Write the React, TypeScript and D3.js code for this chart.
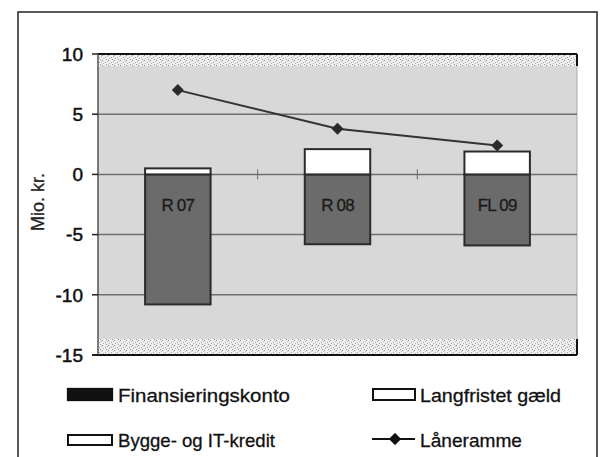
import React from "react";
import * as d3 from "d3";

const categories = ["R 07", "R 08", "FL 09"];
const finansieringskonto = [-10.8, -5.8, -5.9];
const langfristetGaeld = [0.5, 2.1, 1.9];
const byggeOgIT = [0, 0, 0];
const laaneramme = [7.0, 3.8, 2.4];
const yTicks = [10, 5, 0, -5, -10, -15];
const yLabel = "Mio. kr.";
const legendItems = ["Finansieringskonto", "Langfristet gæld", "Bygge- og IT-kredit", "Låneramme"];

const W = 602;
const H = 457;
const plotL = 98;
const plotR = 577;
const plotT = 54;
const plotB = 355;

export default function App() {
  const x = d3
    .scaleBand<string>()
    .domain(categories)
    .range([plotL, plotR])
    .paddingInner(0.59)
    .paddingOuter(0.295);
  const y = d3.scaleLinear().domain([-15, 10]).range([plotB, plotT]);
  const bw = x.bandwidth();
  const step = x.step();

  const line = d3
    .line<number>()
    .x((_, i) => (x(categories[i]) as number) + bw / 2)
    .y((d) => y(d));

  const font = "'Liberation Sans', Arial, sans-serif";
  const stripTop = 12;
  const dark = "#2b2b2b";

  const diamond = (cx: number, cy: number, r: number) =>
    `M${cx},${cy - r}L${cx + r},${cy}L${cx},${cy + r}L${cx - r},${cy}Z`;

  return (
    <svg
      width={W}
      height={H}
      style={{ position: "absolute", left: 0, top: 0, background: "#fff" }}
      fontFamily={font}
    >
      <defs>
        <pattern id="dith" width="6" height="5" patternUnits="userSpaceOnUse">
          <rect width="6" height="5" fill="#eeeeee" />
          <rect x="0" y="0" width="1" height="1" fill="#8a8a8a" />
          <rect x="3" y="2" width="1" height="1" fill="#a5a5a5" />
          <rect x="1" y="3" width="1" height="1" fill="#b4b4b4" />
          <rect x="4" y="4" width="1" height="1" fill="#989898" />
          <rect x="5" y="1" width="1" height="1" fill="#c0c0c0" />
        </pattern>
      </defs>

      {/* outer frame */}
      <rect x={18} y={12} width={579} height={470} fill="none" stroke="#222" strokeWidth={1.5} />

      {/* plot background */}
      <rect x={plotL} y={plotT} width={plotR - plotL} height={plotB - plotT} fill="#d8d8d8" />
      <rect x={plotL} y={plotT} width={plotR - plotL} height={stripTop} fill="url(#dith)" />
      <rect x={plotL} y={plotB - 16} width={plotR - plotL} height={16} fill="url(#dith)" />
      <line x1={plotR} x2={plotR} y1={plotT} y2={plotB} stroke="#aaa" strokeWidth={1} />

      {/* gridlines */}
      {yTicks
        .filter((t) => t !== 10 && t !== -15)
        .map((t) => (
          <line key={t} x1={plotL} x2={plotR} y1={y(t)} y2={y(t)} stroke="#707070" strokeWidth={1.5} />
        ))}
      <line x1={plotL} x2={plotR} y1={plotT} y2={plotT} stroke="#111" strokeWidth={2} />
      <line x1={plotL - 6} x2={plotR} y1={plotB} y2={plotB} stroke="#111" strokeWidth={2} />
      <line x1={plotR} x2={plotR} y1={plotT} y2={plotT + stripTop} stroke="#111" strokeWidth={2} />
      <line x1={plotR} x2={plotR} y1={plotB - 16} y2={plotB} stroke="#111" strokeWidth={2} />

      {/* y axis */}
      <line x1={plotL} x2={plotL} y1={plotT} y2={plotB} stroke="#555" strokeWidth={1.5} />
      {yTicks.map((t) => (
        <g key={t}>
          <line x1={plotL - 6} x2={plotL} y1={y(t)} y2={y(t)} stroke="#222" strokeWidth={1.5} />
          <text
            x={83}
            y={y(t)}
            dy="0.36em"
            textAnchor="end"
            fontSize={19}
            fill="#111"
            stroke="#111"
            strokeWidth={0.5}
          >
            {t < 0 ? "-" + Math.abs(t) : String(t)}
          </text>
        </g>
      ))}
      <text
        transform={`translate(44,${y(-2.3)}) rotate(-90)`}
        textAnchor="middle"
        fontSize={18}
        fill="#222"
        stroke="#222"
        strokeWidth={0.3}
      >
        {yLabel}
      </text>

      {/* x ticks on zero line between categories */}
      {categories.slice(1).map((c) => {
        const bx = (x(c) as number) - (step - bw) / 2;
        return <line key={c} x1={bx} x2={bx} y1={y(0) - 5} y2={y(0) + 5} stroke="#666" strokeWidth={1} />;
      })}

      {/* bars */}
      {categories.map((c, i) => {
        const bx = x(c) as number;
        const l1 = langfristetGaeld[i];
        const b1 = l1 + byggeOgIT[i];
        return (
          <g key={c}>
            <rect
              x={bx}
              y={y(0)}
              width={bw}
              height={y(finansieringskonto[i]) - y(0)}
              fill="#6b6b6b"
              stroke={dark}
              strokeWidth={2}
            />
            {l1 > 0 && (
              <rect x={bx} y={y(l1)} width={bw} height={y(0) - y(l1)} fill="#fff" stroke={dark} strokeWidth={2} />
            )}
            {byggeOgIT[i] > 0 && (
              <rect x={bx} y={y(b1)} width={bw} height={y(l1) - y(b1)} fill="#fff" stroke={dark} strokeWidth={2} />
            )}
            <text
              x={bx + bw / 2}
              y={y(-2.5)}
              dy="0.36em"
              textAnchor="middle"
              fontSize={17}
              fill="#1a1a1a"
              stroke="#1a1a1a"
              strokeWidth={0.3}
              letterSpacing={-0.8}
            >
              {c}
            </text>
          </g>
        );
      })}

      {/* line */}
      <path d={line(laaneramme) || ""} fill="none" stroke="#333" strokeWidth={2} />
      {laaneramme.map((v, i) => (
        <path key={i} d={diamond((x(categories[i]) as number) + bw / 2, y(v), 6)} fill="#2a2a2a" />
      ))}

      {/* legend */}
      <g fontSize={19} fill="#111" stroke="#111" strokeWidth={0.3}>
        <rect x={67} y={388} width={46} height={13} fill="#111" />
        <text x={118} y={395} dy="0.36em" textLength={172} lengthAdjust="spacingAndGlyphs">
          {legendItems[0]}
        </text>
        <rect x={373} y={389} width={42} height={11} fill="#fff" stroke="#111" strokeWidth={2} />
        <text x={420} y={395} dy="0.36em" textLength={141} lengthAdjust="spacingAndGlyphs">
          {legendItems[1]}
        </text>
        <rect x={68} y={435} width={44} height={10} fill="#fff" stroke="#111" strokeWidth={2} />
        <text x={118} y={440} dy="0.36em" textLength={157} lengthAdjust="spacingAndGlyphs">
          {legendItems[2]}
        </text>
        <line x1={372} x2={415} y1={439} y2={439} stroke="#111" strokeWidth={2} />
        <path d={diamond(395, 439, 6)} fill="#111" />
        <text x={420} y={440} dy="0.36em" textLength={102} lengthAdjust="spacingAndGlyphs">
          {legendItems[3]}
        </text>
      </g>
    </svg>
  );
}
